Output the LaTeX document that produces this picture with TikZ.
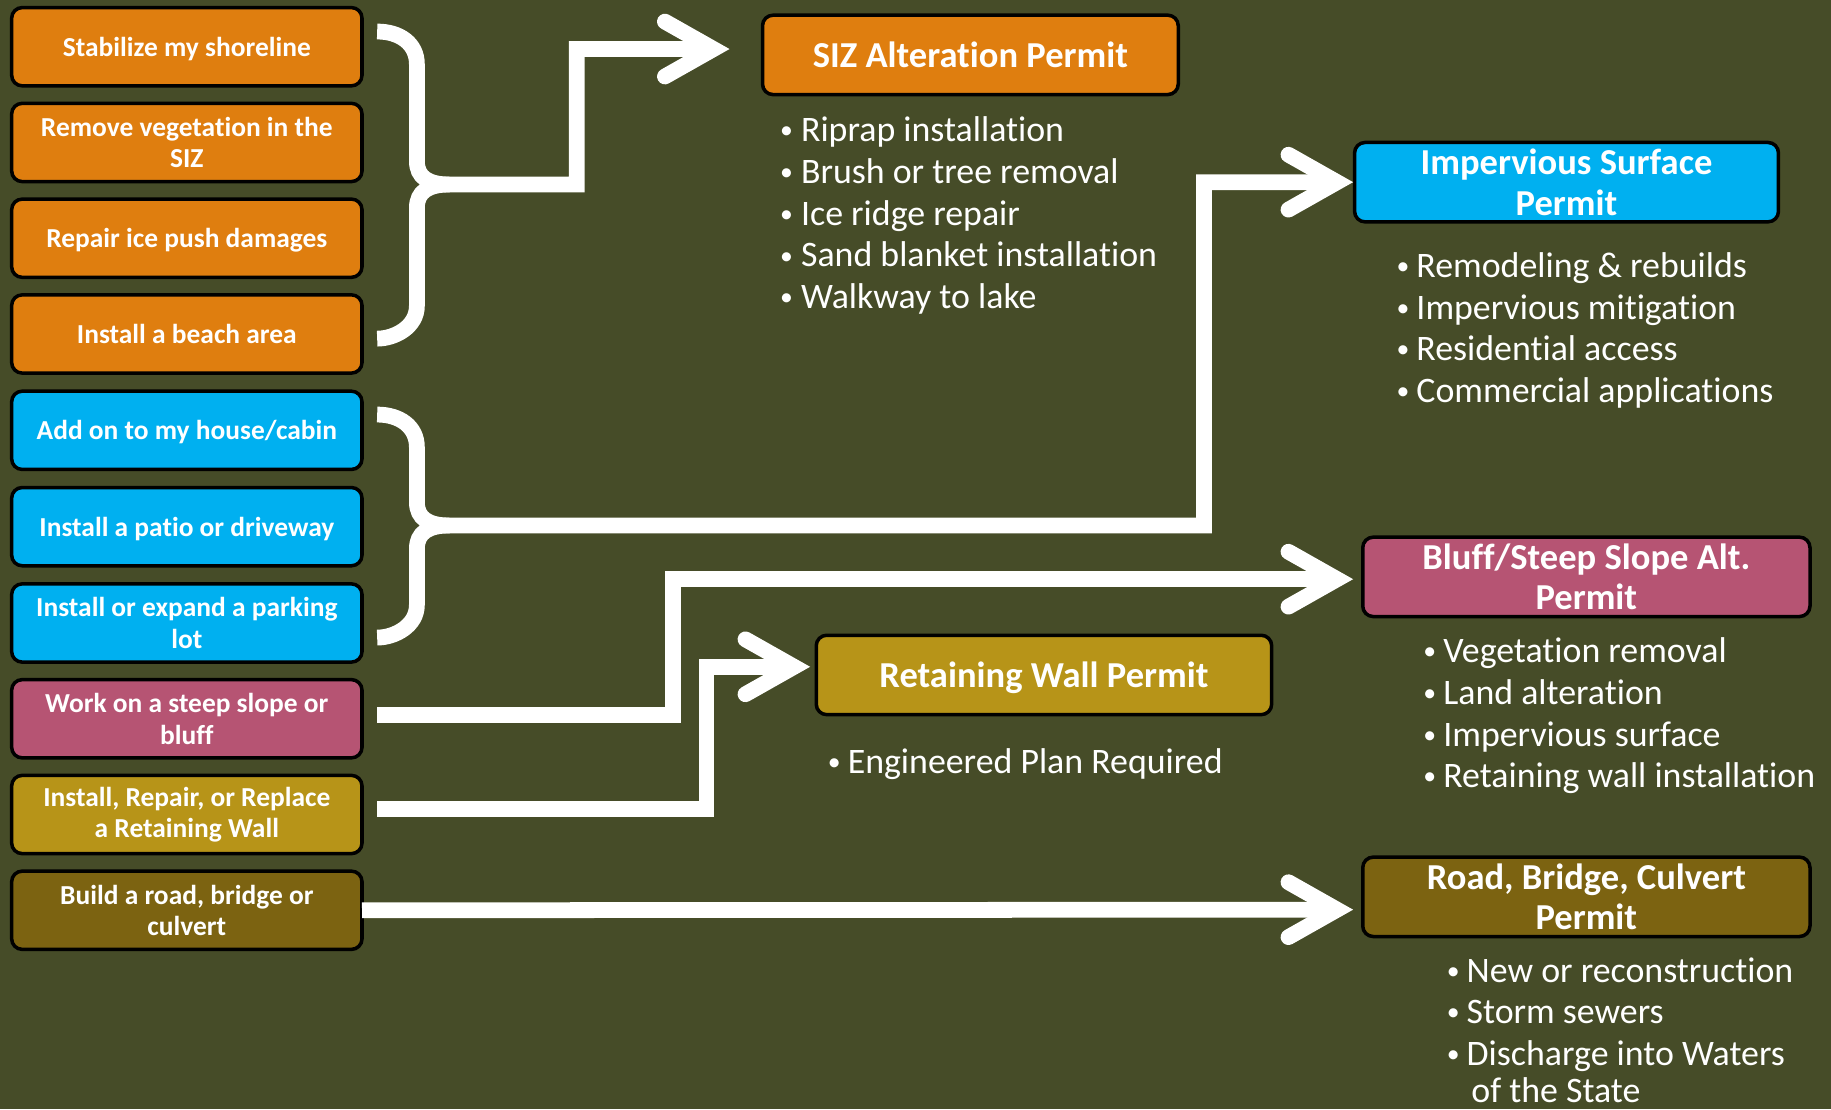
\documentclass[tikz,border=0pt]{standalone}
\usepackage{fontspec}
\setmainfont{Carlito}[Ligatures=NoCommon]
\usetikzlibrary{calc}
\definecolor{bg}{HTML}{464C28}
\definecolor{cOr}{HTML}{DF7E0F}
\definecolor{cBl}{HTML}{00B0F0}
\definecolor{cPk}{HTML}{B65473}
\definecolor{cGd}{HTML}{B79418}
\definecolor{cDk}{HTML}{7C6311}
\newcommand{\bul}[1]{\makebox[#1][l]{\raisebox{2.5pt}{\fontsize{22}{22}\selectfont •}}}
\begin{document}
\begin{tikzpicture}[x=1pt,y=-1pt,
  inbox/.style={draw=black, line width=3pt, rounded corners=9pt, minimum width=300pt, minimum height=67pt, inner sep=0pt, outer sep=0pt, text=white, font=\fontsize{23.5}{27}\selectfont\bfseries, align=center},
  pbox/.style={draw=black, line width=3pt, rounded corners=9pt, inner sep=0pt, outer sep=0pt, minimum height=68pt, text=white, font=\fontsize{31.3}{35}\selectfont\bfseries, align=center},
  oneline/.style={text depth=0pt},
  flow/.style={draw=white, line width=13.5pt, line join=miter},
  chev/.style={draw=white, line width=13.5pt, line cap=round, line join=miter},
  blt/.style={anchor=base west, inner sep=0pt, outer sep=0pt, text=white, text depth=0pt, font=\fontsize{30.7}{36}\selectfont},
]
\fill[bg] (0,0) rectangle (1568,950);
\useasboundingbox (0,0) rectangle (1568,950);

% left boxes
\node[inbox, oneline, fill=cOr] (q1) at (160,40) {Stabilize my shoreline};
\node[inbox, fill=cOr] (q2) at (160,122) {Remove vegetation in the\\SIZ};
\node[inbox, oneline, fill=cOr] (q3) at (160,204) {Repair ice push damages};
\node[inbox, oneline, fill=cOr] (q4) at (160,286) {Install a beach area};
\node[inbox, oneline, fill=cBl] (q5) at (160,368.5) {Add on to my house/cabin};
\node[inbox, oneline, fill=cBl] (q6) at (160,451) {Install a patio or driveway};
\node[inbox, fill=cBl] (q7) at (160,533.5) {Install or expand a parking\\lot};
\node[inbox, fill=cPk] (q8) at (160,615.5) {Work on a steep slope or\\bluff};
\node[inbox, fill=cGd] (q9) at (160,697.5) {Install, Repair, or Replace\\a Retaining Wall};
\node[inbox, fill=cDk] (q10) at (160,779.5) {Build a road, bridge or\\culvert};

% permit boxes
\node[pbox, oneline, fill=cOr, minimum width=356pt] (siz) at (831,47) {SIZ Alteration Permit};
\node[pbox, fill=cBl, minimum width=363pt] (imp) at (1341.5,156) {Impervious Surface\\Permit};
\node[pbox, fill=cPk, minimum width=383pt] (blf) at (1358.5,494) {Bluff/Steep Slope Alt.\\Permit};
\node[pbox, oneline, fill=cGd, minimum width=390pt] (ret) at (894,578) {Retaining Wall Permit};
\node[pbox, fill=cDk, minimum width=383pt] (rd) at (1358.5,768) {Road, Bridge, Culvert\\Permit};

% coordinates
\coordinate (b1a) at ($(q1.east)+(13,-13)$);
\coordinate (b1b) at ($(q4.east)+(13,4)$);
\coordinate (b2a) at ($(q5.east)+(13,-13.5)$);
\coordinate (b2b) at ($(q7.east)+(13,12.5)$);
\coordinate (t1) at ($(siz.west)+(-42,-5)$);
\coordinate (t2) at ($(imp.west)+(-15,0)$);
\coordinate (t3) at ($(blf.west)+(-22,2)$);
\coordinate (t4) at ($(ret.west)+(-19,-7)$);
\coordinate (t5) at ($(rd.west)+(-22,11)$);

% brace 1 -> SIZ
\draw[flow] (b1a) .. controls +(19,0) and +(0,-18) .. ++(34,28) -- (357,138)
  .. controls +(0,14) and +(-18,0) .. (385,158) -- (494,158) -- (494,42) -- (t1);
\draw[flow] (385,158) .. controls +(-18,0) and +(0,-14) .. (357,178) -- (357,262)
  .. controls +(0,18) and +(15,0) .. (b1b);
\draw[chev] ($(t1)+(-41.6,-23.5)$) -- (t1) -- ($(t1)+(-41.6,23.5)$);

% brace 2 -> Impervious
\draw[flow] (b2a) .. controls +(19,0) and +(0,-18) .. ++(34,28) -- (357,430)
  .. controls +(0,14) and +(-18,0) .. (385,450) -- (1031,450) -- (1031,156) -- (t2);
\draw[flow] (385,450) .. controls +(-18,0) and +(0,-14) .. (357,470) -- (357,518)
  .. controls +(0,18) and +(15,0) .. (b2b);
\draw[chev] ($(t2)+(-41.6,-23.5)$) -- (t2) -- ($(t2)+(-41.6,23.5)$);

% steep slope -> Bluff
\draw[flow] ($(q8.east)+(13,-3.5)$) -- (576,612) -- (576,496) -- (t3);
\draw[chev] ($(t3)+(-41.6,-23.5)$) -- (t3) -- ($(t3)+(-41.6,23.5)$);

% retaining wall -> Retaining Wall Permit
\draw[flow] ($(q9.east)+(13,-4.5)$) -- (605,693) -- (605,571) -- (t4);
\draw[chev] ($(t4)+(-41.6,-23.5)$) -- (t4) -- ($(t4)+(-41.6,23.5)$);

% road -> Road permit
\draw[flow] (q10.east) -- (t5);
\draw[chev] ($(t5)+(-41.6,-23.5)$) -- (t5) -- ($(t5)+(-41.6,23.5)$);

% bullet lists
\node[blt] (s1) at (668,121.5) {\bul{18pt}Riprap installation};
\node[blt] (s2) at (668,157.2) {\bul{18pt}Brush or tree removal};
\node[blt] (s3) at (668,192.9) {\bul{18pt}Ice ridge repair};
\node[blt] (s4) at (668,228.6) {\bul{18pt}Sand blanket installation};
\node[blt] (s5) at (668,264.3) {\bul{18pt}Walkway to lake};

\node[blt] (i1) at (1196,237.5) {\bul{17pt}Remodeling \& rebuilds};
\node[blt] (i2) at (1196,273.2) {\bul{17pt}Impervious mitigation};
\node[blt] (i3) at (1196,308.9) {\bul{17pt}Residential access};
\node[blt] (i4) at (1196,344.6) {\bul{17pt}Commercial applications};

\node[blt] (f1) at (1219,567.5) {\bul{17pt}Vegetation removal};
\node[blt] (f2) at (1219,603.2) {\bul{17pt}Land alteration};
\node[blt] (f3) at (1219,638.9) {\bul{17pt}Impervious surface};
\node[blt] (f4) at (1219,674.6) {\bul{17pt}Retaining wall installation};

\node[blt] (w1) at (709,662.5) {\bul{17pt}Engineered Plan Required};

\node[blt] (r1) at (1239,841) {\bul{17pt}New or reconstruction};
\node[blt] (r2) at (1239,876.7) {\bul{17pt}Storm sewers};
\node[blt] (r3) at (1239,912.4) {\bul{17pt}Discharge into Waters};
\node[blt] (r4) at (1260,944.5) {of the State};
\end{tikzpicture}
\end{document}
